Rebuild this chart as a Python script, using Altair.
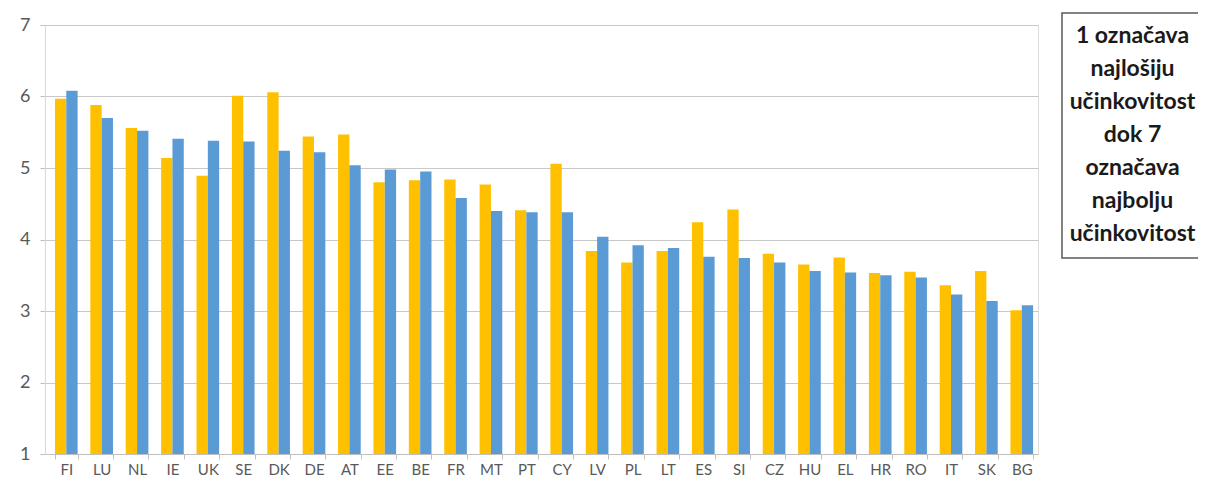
import altair as alt
import pandas as pd

countries = ["FI", "LU", "NL", "IE", "UK", "SE", "DK", "DE", "AT", "EE", "BE", "FR", "MT", "PT",
             "CY", "LV", "PL", "LT", "ES", "SI", "CZ", "HU", "EL", "HR", "RO", "IT", "SK", "BG"]
series_a = [5.97, 5.88, 5.56, 5.14, 4.89, 6.01, 6.06, 5.44, 5.47, 4.80, 4.83, 4.84, 4.77, 4.41,
            5.06, 3.84, 3.68, 3.84, 4.24, 4.42, 3.80, 3.65, 3.75, 3.53, 3.55, 3.36, 3.56, 3.01]
series_b = [6.08, 5.70, 5.52, 5.41, 5.38, 5.37, 5.24, 5.22, 5.04, 4.98, 4.95, 4.58, 4.40, 4.38,
            4.38, 4.04, 3.92, 3.88, 3.76, 3.74, 3.68, 3.56, 3.54, 3.50, 3.47, 3.23, 3.14, 3.08]
series_names = ["Serija 1", "Serija 2"]
series_colors = ["#FFC000", "#5B9BD5"]
y_ticks = [1, 2, 3, 4, 5, 6, 7]
note = "1 označava\nnajlošiju\nučinkovitost\ndok 7\noznačava\nnajbolju\nučinkovitost"

rows = []
for i, c in enumerate(countries):
    rows.append({"country": c, "series": series_names[0], "value": series_a[i]})
    rows.append({"country": c, "series": series_names[1], "value": series_b[i]})
df = pd.DataFrame(rows)

W, H = 993, 429
PLOT_LEFT, PLOT_TOP = 45, 25

bars = alt.Chart(df).mark_bar().encode(
    x=alt.X("country:N", sort=countries, title=None,
            scale=alt.Scale(paddingInner=0.36, paddingOuter=0.21, align=0.67),
            axis=alt.Axis(labelAngle=0, labelFont="Lato", labelFontSize=15, labelColor="#595959",
                          labelPadding=3, tickBand="extent", tickSize=5, tickColor="#bfbfbf",
                          domainColor="#bfbfbf", grid=False)),
    xOffset=alt.XOffset("series:N", sort=series_names, scale=alt.Scale(paddingInner=0, paddingOuter=0)),
    y=alt.Y("value:Q", title=None,
            scale=alt.Scale(domain=[1, 7], nice=False, zero=False),
            axis=alt.Axis(values=y_ticks, labelFont="Lato", labelFontSize=18, labelColor="#595959",
                          labelPadding=10, tickSize=5, tickColor="#bfbfbf", domainColor="#d9d9d9",
                          gridColor="#c8c8c8", gridWidth=1.2)),
    y2=alt.datum(1),
    color=alt.Color("series:N", sort=series_names,
                    scale=alt.Scale(domain=series_names, range=series_colors), legend=None),
)

note_df = pd.DataFrame({"note": [note]})
box = alt.Chart(note_df).mark_rect(fill="white", stroke="#595959", strokeWidth=1.5).encode(
    x=alt.value(1062 - PLOT_LEFT), x2=alt.value(1203 - PLOT_LEFT),
    y=alt.value(13 - PLOT_TOP), y2=alt.value(258 - PLOT_TOP),
)
txt = alt.Chart(note_df).mark_text(
    align="center", baseline="middle", lineBreak="\n", lineHeight=33,
    font="Lato", fontWeight="bold", fontSize=23, color="#1a1a1a"
).encode(
    x=alt.value((1062 + 1203) / 2 - PLOT_LEFT), y=alt.value(36 - PLOT_TOP),
    text="note:N",
)

chart = alt.layer(bars, box, txt).properties(
    width=W, height=H,
    autosize=alt.AutoSizeParams(type="none"),
    padding={"left": PLOT_LEFT - 8, "top": PLOT_TOP - 8, "right": 160, "bottom": 30},
).configure_view(stroke=None).configure(background="white")

chart.save("out.html", embed_options={"renderer": "svg", "actions": False})
